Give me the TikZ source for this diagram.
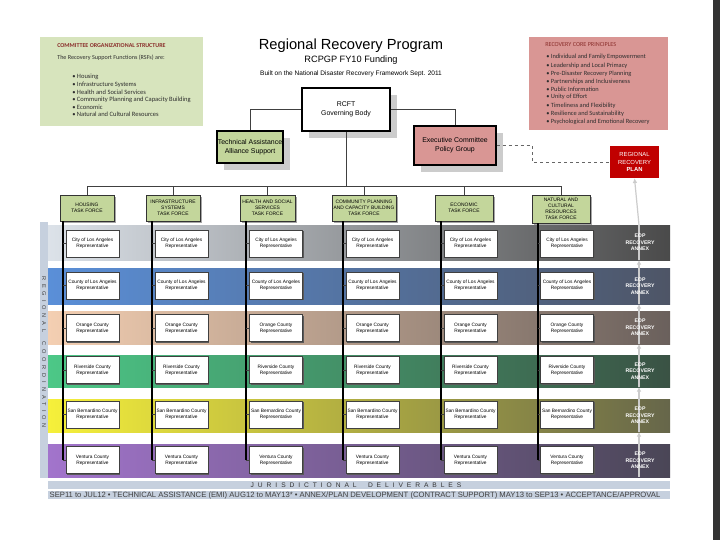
\documentclass[tikz,border=0pt]{standalone}
\usepackage{fontspec}
\setmainfont{Liberation Sans}
\newfontfamily\calfont{Carlito}
\usetikzlibrary{shadows,arrows.meta,calc}
\newcommand{\fs}[1]{\fontsize{#1pt}{1.25\dimexpr #1pt\relax}\selectfont}
\definecolor{lgreen}{HTML}{D7E4BD}
\definecolor{lpink}{HTML}{D99694}
\definecolor{dred}{HTML}{8A2E2B}
\definecolor{tfgreen}{HTML}{C3D69B}
\definecolor{planred}{HTML}{C00000}
\definecolor{stripc}{HTML}{C6D0DE}
\definecolor{bodytxt}{HTML}{2E2E2E}
\tikzset{
  tfbox/.style={draw=black!80, line width=0.5pt, fill=tfgreen, inner sep=0pt, align=center,
     font=\fs{3.7}, minimum height=19.5pt,
     drop shadow={shadow xshift=1.5pt, shadow yshift=-1.5pt, fill=black!35, opacity=1}},
  cell/.style={draw=black!75, line width=0.4pt, fill=white, inner sep=0pt, align=center,
     font=\fs{3.6}, minimum width=39.75pt, minimum height=20.25pt,
     drop shadow={shadow xshift=1.1pt, shadow yshift=-1.1pt, fill=black!65, opacity=1}},
  bigbox/.style={draw=black, line width=0.8pt, inner sep=0pt, align=center, font=\fs{5.2},
     drop shadow={shadow xshift=5pt, shadow yshift=-5pt, fill=black!20, opacity=1}},
  link/.style={draw=black!75, line width=0.5pt},
  colline/.style={draw=black, line width=0.8pt},
  annexline/.style={draw=black!20, line width=0.9pt},
  annextxt/.style={text=white, font=\bfseries\fs{3.9}, align=center},
  lbul/.style={anchor=west, inner sep=0pt, font=\calfont\fs{4.9}, text=bodytxt},
  rbul/.style={anchor=west, inner sep=0pt, font=\calfont\fs{4.8}, text=bodytxt}
}
\begin{document}
\begin{tikzpicture}[x=0.75pt,y=-0.75pt]
\useasboundingbox (0,0) rectangle (720,540);
\fill[white] (0,0) rectangle (720,540);
\fill[black!80] (713,0) rectangle (720,540);

% ---- top left box
\fill[lgreen] (40,37) rectangle (203,126);
\node[anchor=west, inner sep=0pt, font=\calfont\bfseries\fs{4.5}, text=dred] (lt) at (57,46) {COMMITTEE ORGANIZATIONAL STRUCTURE};
\node[lbul, font=\calfont\fs{4.6}] (ls) at (57,58) {The Recovery Support Functions (RSFs) are:};
\foreach \i/\yy/\t in {1/77/Housing, 2/84.5/Infrastructure Systems, 3/92/Health and Social Services,
   4/99.5/Community Planning and Capacity Building, 5/107/Economic, 6/114.5/Natural and Cultural Resources}
   \node[lbul] (lb\i) at (72,\yy) {\textbullet\ \t};

% ---- top right box
\fill[lpink] (529,37) rectangle (668,130);
\node[anchor=west, inner sep=0pt, font=\calfont\fs{4.6}, text=dred] (rt) at (545,45) {RECOVERY CORE PRINCIPLES};
\foreach \i/\yy/\t in {1/57/Individual and Family Empowerment, 2/65.3/Leadership and Local Primacy,
   3/73.5/Pre-Disaster Recovery Planning, 4/81.3/Partnerships and Inclusiveness, 5/89/Public Information,
   6/97/Unity of Effort, 7/105.3/Timeliness and Flexibility, 8/113.5/Resilience and Sustainability,
   9/122/Psychological and Emotional Recovery}
   \node[rbul] (rb\i) at (546,\yy) {\textbullet\ \t};

% ---- titles
\node[font=\fs{11}] (title) at (351,46) {Regional Recovery Program};
\node[font=\fs{6.9}] (sub) at (351,60.5) {RCPGP FY10 Funding};
\node[font=\fs{4.9}] (built) at (351,74) {Built on the National Disaster Recovery Framework Sept. 2011};

% ---- governance boxes
\node[bigbox, fill=white, minimum width=66pt, minimum height=32.25pt] (rcft) at (346,109.5) {RCFT\\Governing Body};
\node[bigbox, fill=tfgreen, minimum width=49.5pt, minimum height=24pt] (ta) at (250,147) {Technical Assistance\\Alliance Support};
\node[bigbox, fill=lpink, minimum width=61.5pt, minimum height=29.25pt] (exec) at (455,145.5) {Executive Committee\\Policy Group};
\node[draw=none, fill=planred, inner sep=0pt, align=center, text=white, font=\fs{4.4},
      minimum width=36.75pt, minimum height=24pt] (plan) at (634.5,162) {REGIONAL\\RECOVERY\\\textbf{PLAN}};

\draw[link] (ta.north) |- (rcft.west);
\draw[link] (rcft.east) -| (exec.north);
\coordinate (dk) at (532,0);
\draw[black!60, line width=0.5pt, dash pattern=on 2.5pt off 2pt] (exec.east) -- (exec.east -| dk) |- (plan.west);

% ---- task forces
\node[tfbox, minimum width=40.5pt] (tf1) at (87,208) {HOUSING\\TASK FORCE};
\node[tfbox, minimum width=40.5pt] (tf2) at (173,208) {INFRASTRUCTURE\\SYSTEMS\\TASK FORCE};
\node[tfbox, minimum width=41.25pt] (tf3) at (267.5,208) {HEALTH AND SOCIAL\\SERVICES\\TASK FORCE};
\node[tfbox, minimum width=48pt] (tf4) at (364,208) {COMMUNITY PLANNING\\AND CAPACITY BUILDING\\TASK FORCE};
\node[tfbox, minimum width=43.5pt] (tf5) at (464,208) {ECONOMIC\\TASK FORCE};
\node[tfbox, minimum width=43.5pt, minimum height=21pt] (tf6) at (561,209) {NATURAL AND\\CULTURAL\\RESOURCES\\TASK FORCE};

\coordinate (bus) at (0,186);
\draw[link] (rcft.south) -- (rcft.south |- bus);
\draw[link] (tf1.north) -- (tf1.north |- bus) -- (tf6.north |- bus) -- (tf6.north);
\foreach \i in {2,3,4,5} \draw[link] (tf\i.north) -- (tf\i.north |- bus);

% ---- left strip
\fill[stripc] (40,222) rectangle (48,478);
\node[rotate=-90, font=\fs{4.2}, text=black!75] (vlab) at (44,352)
  {\spaceskip=2.9pt\relax R E G I O N A L\hspace{7pt}C O O R D I N A T I O N};

% ---- bands
\shade[left color={rgb,255:red,220;green,226;blue,233}, right color={rgb,255:red,74;green,74;blue,74}] (48,225) rectangle (670,260);
\shade[left color={rgb,255:red,90;green,143;blue,216}, right color={rgb,255:red,78;green,85;blue,102}] (48,268) rectangle (670,304);
\shade[left color={rgb,255:red,244;green,207;blue,178}, right color={rgb,255:red,106;green,96;blue,92}] (48,311) rectangle (670,344);
\shade[left color={rgb,255:red,76;green,200;blue,135}, right color={rgb,255:red,58;green,82;blue,68}] (48,355) rectangle (670,387);
\shade[left color={rgb,255:red,246;green,240;blue,58}, right color={rgb,255:red,102;green,102;blue,74}] (48,399) rectangle (670,432);
\shade[left color={rgb,255:red,162;green,116;blue,204}, right color={rgb,255:red,74;green,70;blue,86}] (48,444) rectangle (670,477);

% ---- annex connector line
\foreach \i/\yt/\yb in {1/225/260, 2/268/304, 3/311/344, 4/355/387, 5/399/432, 6/444/477}{
  \coordinate (t\i) at (639,\yt);
  \coordinate (b\i) at (639,\yb);
}
\foreach \i in {1,...,6} \draw[annexline] (t\i) -- (b\i);
\foreach \i/\j in {2/1, 3/2, 4/3, 5/4, 6/5}
  \draw[annexline, -{Latex[length=3.5pt, width=3.5pt]}] (t\i) -- (b\j);
\draw[annexline, -{Latex[length=3.5pt, width=3.5pt]}] (t1) -- (plan.south);

\foreach \i/\yy in {1/242.5, 2/286, 3/327.5, 4/371, 5/415.5, 6/460.5}
  \node[annextxt] (ax\i) at (640,\yy) {EOP\\RECOVERY\\ANNEX};

% ---- cells
\foreach \r/\yy/\txt in {1/243.5/City of Los Angeles, 2/285.5/County of Los Angeles, 3/328/Orange County,
     4/370/Riverside County, 5/414.5/San Bernardino County, 6/460/Ventura County}{
  \foreach \c/\xx in {1/92.5, 2/181.5, 3/276, 4/372.5, 5/470.5, 6/567}{
    \node[cell] (c\r\c) at (\xx,\yy) {\txt\\Representative};
  }
}

% ---- column lines
\foreach \c/\lx in {1/63, 2/152, 3/246, 4/343, 5/441, 6/538}{
  \coordinate (k\c) at (\lx,0);
  \draw[colline] (tf\c.south -| k\c) -- (k\c |- c6\c.west);
  \foreach \r in {1,...,6} \draw[link] (k\c |- c\r\c.west) -- (c\r\c.west);
}

% ---- deliverables
\fill[stripc] (48,481) rectangle (670,489);
\node[font=\fs{5}, text=black!80] (jd) at (356,485.3)
  {\spaceskip=2.95pt\relax J U R I S D I C T I O N A L\hspace{8.5pt}D E L I V E R A B L E S};
\fill[stripc] (48,491) rectangle (670,499);
\node[font=\fs{5}, text=black!75, inner sep=0pt] (sched) at (355,495.3)
  {\resizebox{458pt}{!}{SEP11 to JUL12 \textbullet\ TECHNICAL ASSISTANCE (EMI) AUG12 to MAY13* \textbullet\ ANNEX/PLAN DEVELOPMENT (CONTRACT SUPPORT) MAY13 to SEP13 \textbullet\ ACCEPTANCE/APPROVAL}};
\end{tikzpicture}
\end{document}
